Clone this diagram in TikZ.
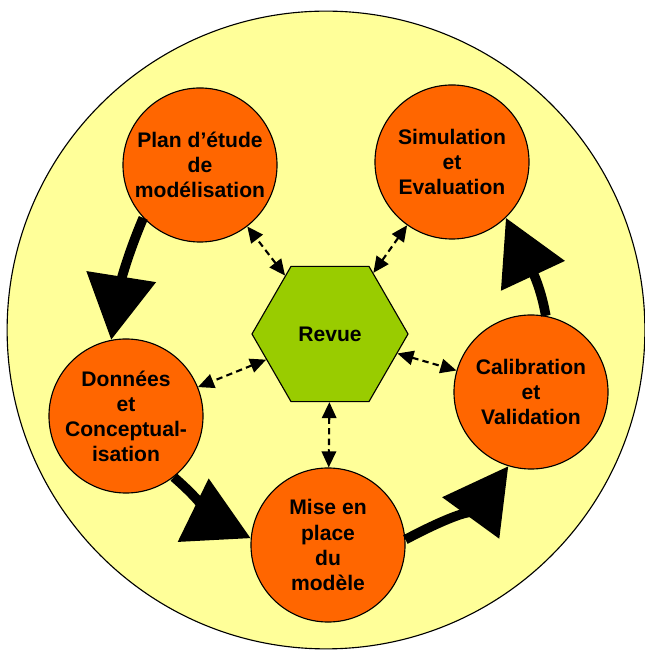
\documentclass[tikz,border=0pt]{standalone}
\usepackage{fontspec}
\setmainfont{Liberation Sans}
\usetikzlibrary{arrows.meta,shapes.geometric}
\definecolor{bgyellow}{HTML}{FFFF99}
\definecolor{phaseorange}{HTML}{FF6600}
\definecolor{revuegreen}{HTML}{99CC00}

\begin{document}
\begin{tikzpicture}[
  x=0.025cm, y=0.025cm,
  phase/.style={circle,draw,thick,fill=phaseorange,minimum size=3.85cm,inner sep=0pt,align=center,font=\fontsize{15}{17.8}\selectfont\bfseries},
  hub/.style={regular polygon,regular polygon sides=6,draw,thick,fill=revuegreen,minimum size=3.9cm,inner sep=0pt,font=\fontsize{15}{17.8}\selectfont\bfseries},
  flow/.style={-{Triangle[length=1.6cm,width=1.7cm]},line width=0.24cm},
  link/.style={{Triangle[length=0.4cm,width=0.36cm]}-{Triangle[length=0.4cm,width=0.36cm]},line width=1.5pt,dash pattern=on 4.5pt off 3pt}
]
\useasboundingbox (0,0) rectangle (644,650);
\filldraw[fill=bgyellow,thick] (326,320) circle[radius=7.97cm];

\node[hub] (revue) at (330,316) {Revue};
\node[phase] (plan) at (200,485) {Plan d'étude\\de\\modélisation};
\node[phase] (simul) at (452,488) {Simulation\\et\\Evaluation};
\node[phase] (donnees) at (126,234) {Données\\et\\Conceptual-\\isation};
\node[phase] (calib) at (531,258) {Calibration\\et\\Validation};
\node[phase] (mise) at (328,105) {Mise en\\place\\du\\modèle};

% cycle of the study
\draw[flow] (plan.223) to[out=247,in=81] (donnees.101);
\draw[flow] (donnees.308) to[out=-41,in=154] (mise.175);
\draw[flow] (mise.4) to[out=28,in=234] (calib.253);
\draw[flow] (calib.79) to[out=100,in=295] (simul.314);

% links to the review
\draw[link] (revue) -- (plan);
\draw[link] (revue) -- (simul);
\draw[link] (revue) -- (donnees);
\draw[link] (revue) -- (calib);
\draw[link] (revue) -- (mise);
\end{tikzpicture}
\end{document}
